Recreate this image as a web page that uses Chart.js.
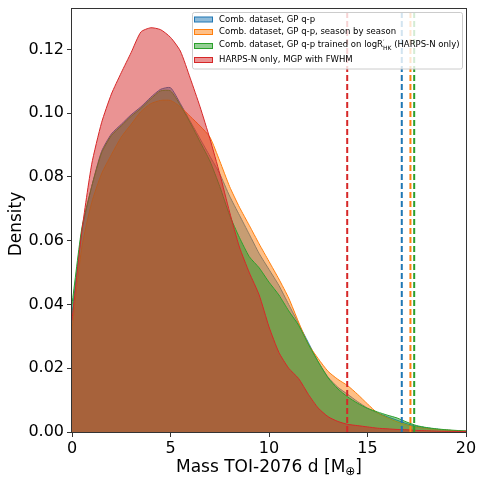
<!DOCTYPE html>
<html>
<head>
<meta charset="utf-8">
<script src="https://cdn.jsdelivr.net/npm/chart.js@4"></script>
<style>
  body { margin: 0; background: #fff; }
  canvas { display: block; }
</style>
</head>
<body>
<canvas id="kde-chart" width="479" height="483"></canvas>
<script>
// mass grid (M_earth) and density values
const massGrid = [0, 0.5, 1, 1.5, 2, 2.5, 3, 3.5, 4, 4.5, 5, 5.5, 6, 6.5, 7, 7.5, 8, 8.5, 9, 9.5,
                  10, 10.5, 11, 11.5, 12, 12.5, 13, 13.5, 14, 14.5, 15, 15.5, 16, 16.5, 17, 17.5, 18, 18.5, 19, 19.5, 20];

const densCombined = [0.037, 0.063, 0.077, 0.088, 0.0935, 0.0965, 0.0995, 0.102, 0.105, 0.1075, 0.108, 0.103, 0.0975, 0.092, 0.0865, 0.081, 0.074, 0.068, 0.062, 0.056,
                      0.051, 0.046, 0.040, 0.034, 0.028, 0.022, 0.0172, 0.014, 0.0118, 0.0095, 0.0075, 0.006, 0.0048, 0.0037, 0.0026, 0.0018, 0.0013, 0.0009, 0.0006, 0.0004, 0.0003];

const densSeason = [0.032, 0.058, 0.072, 0.081, 0.087, 0.0925, 0.0965, 0.1005, 0.103, 0.104, 0.104, 0.102, 0.099, 0.096, 0.0925, 0.085, 0.077, 0.0705, 0.0648, 0.059,
                    0.0535, 0.048, 0.042, 0.0345, 0.0275, 0.023, 0.019, 0.0165, 0.0145, 0.0118, 0.0088, 0.006, 0.0045, 0.0032, 0.0022, 0.0015, 0.0011, 0.0008, 0.0006, 0.0004, 0.0003];

const densRhk = [0.040, 0.064, 0.077, 0.0875, 0.093, 0.096, 0.099, 0.1015, 0.1045, 0.107, 0.107, 0.1025, 0.097, 0.091, 0.085, 0.077, 0.068, 0.061, 0.055, 0.0515,
                 0.047, 0.043, 0.038, 0.0335, 0.0275, 0.022, 0.017, 0.0135, 0.011, 0.009, 0.0074, 0.0063, 0.0053, 0.0044, 0.0031, 0.002, 0.0014, 0.001, 0.0007, 0.0005, 0.0003];

const densHarpsN = [0.035, 0.063, 0.084, 0.097, 0.106, 0.1127, 0.119, 0.1255, 0.1268, 0.1262, 0.1238, 0.1195, 0.111, 0.102, 0.092, 0.081, 0.069, 0.058, 0.050, 0.043,
                    0.033, 0.025, 0.020, 0.0168, 0.0118, 0.0075, 0.0048, 0.0033, 0.0024, 0.002, 0.0016, 0.0012, 0.001, 0.0008, 0.0007, 0.0005, 0.0004, 0.0003, 0.0002, 0.0002, 0.0001];

// dashed vertical markers, same order as the series
const markerMass = [16.74, 17.18, 17.37, 13.97];

const seriesLabels = [
    "Comb. dataset, GP q-p",
    "Comb. dataset, GP q-p, season by season",
    "Comb. dataset, GP q-p trained on logR'HK (HARPS-N only)",
    "HARPS-N only, MGP with FWHM"
];
const seriesColors = ["#1f77b4", "#ff7f0e", "#2ca02c", "#d62728"];
const seriesDensity = [densCombined, densSeason, densRhk, densHarpsN];

const yTicks = [0, 0.02, 0.04, 0.06, 0.08, 0.10, 0.12];
const xTicks = [0, 5, 10, 15, 20];
const Y_MAX = 0.133;

function withAlpha(hex, a) {
    const n = parseInt(hex.slice(1), 16);
    return `rgba(${(n >> 16) & 255},${(n >> 8) & 255},${n & 255},${a})`;
}

const datasets = [];
seriesDensity.forEach((dens, i) => {
    datasets.push({
        label: seriesLabels[i],
        data: massGrid.map((m, k) => ({ x: m, y: dens[k] })),
        borderColor: seriesColors[i],
        backgroundColor: withAlpha(seriesColors[i], 0.5),
        borderWidth: 1,
        fill: 'origin',
        pointRadius: 0,
        tension: 0.2,
        order: 10 - i
    });
});
markerMass.forEach((m, i) => {
    datasets.push({
        label: 'marker ' + i,
        data: [{ x: m, y: 0 }, { x: m, y: Y_MAX }],
        borderColor: seriesColors[i],
        borderWidth: 2,
        borderDash: [6, 3],
        fill: false,
        pointRadius: 0,
        order: 1
    });
});

const FONT = "'DejaVu Sans', sans-serif";

// axis frame, axis titles and the legend box are drawn by hand
const decorations = {
    id: 'decorations',
    afterDraw(chart) {
        const ctx = chart.ctx;
        const a = chart.chartArea;
        ctx.save();

        // spines
        ctx.strokeStyle = '#333';
        ctx.lineWidth = 1;
        ctx.strokeRect(Math.round(a.left) - 0.5, Math.round(a.top) + 0.5,
                       Math.round(a.right - a.left) + 1, Math.round(a.bottom - a.top));

        // y title
        ctx.fillStyle = '#000';
        ctx.font = `17px ${FONT}`;
        ctx.textAlign = 'center';
        ctx.textBaseline = 'middle';
        ctx.translate(17, 224);
        ctx.rotate(-Math.PI / 2);
        ctx.fillText('Density', 0, 0);
        ctx.setTransform(1, 0, 0, 1, 0, 0);

        // x title with subscript earth symbol
        ctx.textAlign = 'left';
        ctx.textBaseline = 'alphabetic';
        ctx.font = `17px ${FONT}`;
        const p1 = 'Mass TOI-2076 d [M';
        const p3 = ']';
        const w1 = ctx.measureText(p1).width;
        const w3 = ctx.measureText(p3).width;
        ctx.font = `12px ${FONT}`;
        const w2 = ctx.measureText('\u2295').width;
        const total = w1 + w2 + w3;
        let x = (a.left + a.right) / 2 - total / 2;
        const base = 472;
        ctx.font = `17px ${FONT}`;
        ctx.fillText(p1, x, base);
        ctx.font = `12px ${FONT}`;
        ctx.fillText('\u2295', x + w1, base + 3);
        ctx.font = `17px ${FONT}`;
        ctx.fillText(p3, x + w1 + w2, base);

        // legend
        const bx = 192.5, by = 12.5, bw = 270, bh = 56.5;
        ctx.beginPath();
        ctx.roundRect(bx, by, bw, bh, 2);
        ctx.fillStyle = 'rgba(255,255,255,0.8)';
        ctx.fill();
        ctx.strokeStyle = '#cccccc';
        ctx.lineWidth = 1;
        ctx.stroke();

        const rows = [19.5, 32, 46, 60];
        ctx.font = `8.5px ${FONT}`;
        ctx.textBaseline = 'middle';
        seriesLabels.forEach((lab, i) => {
            const cy = rows[i];
            ctx.fillStyle = withAlpha(seriesColors[i], 0.5);
            ctx.fillRect(194.5, cy - 2.5, 18, 5);
            ctx.strokeStyle = seriesColors[i];
            ctx.strokeRect(194.5, cy - 2.5, 18, 5);
            ctx.fillStyle = '#000';
            if (i === 2) {
                const a1 = 'Comb. dataset, GP q-p trained on logR';
                ctx.font = `8.5px ${FONT}`;
                ctx.fillText(a1, 219, cy - 1);
                let tx = 219 + ctx.measureText(a1).width;
                ctx.font = `6px ${FONT}`;
                ctx.fillText('\u2032', tx, cy - 4);
                ctx.fillText('HK', tx, cy + 2);
                tx += ctx.measureText('HK').width;
                ctx.font = `8.5px ${FONT}`;
                ctx.fillText(' (HARPS-N only)', tx, cy - 1);
            } else {
                ctx.fillText(lab, 219, cy);
            }
        });
        ctx.restore();
    }
};

new Chart(document.getElementById('kde-chart'), {
    type: 'line',
    data: { datasets },
    options: {
        responsive: false,
        animation: false,
        devicePixelRatio: 1,
        layout: { padding: { top: 8, right: 13, left: 0, bottom: 0 } },
        plugins: {
            legend: { display: false },
            tooltip: { enabled: false }
        },
        scales: {
            x: {
                type: 'linear',
                min: 0,
                max: 20,
                afterBuildTicks: s => { s.ticks = xTicks.map(v => ({ value: v })); },
                afterFit: s => { s.height = 51; s.paddingLeft = 0; s.paddingRight = 0; },
                ticks: { color: '#000', font: { family: FONT, size: 16 }, padding: 2, maxRotation: 0 },
                grid: { drawOnChartArea: false, drawTicks: true, tickLength: 5, color: '#333' },
                border: { display: false }
            },
            y: {
                type: 'linear',
                min: 0,
                max: Y_MAX,
                afterBuildTicks: s => { s.ticks = yTicks.map(v => ({ value: v })); },
                afterFit: s => { s.width = 72; s.paddingTop = 0; s.paddingBottom = 0; },
                ticks: {
                    color: '#000',
                    font: { family: FONT, size: 16 },
                    padding: 3,
                    callback: v => v.toFixed(2)
                },
                grid: { drawOnChartArea: false, drawTicks: true, tickLength: 5, color: '#333' },
                border: { display: false }
            }
        }
    },
    plugins: [decorations]
});
</script>
</body>
</html>
